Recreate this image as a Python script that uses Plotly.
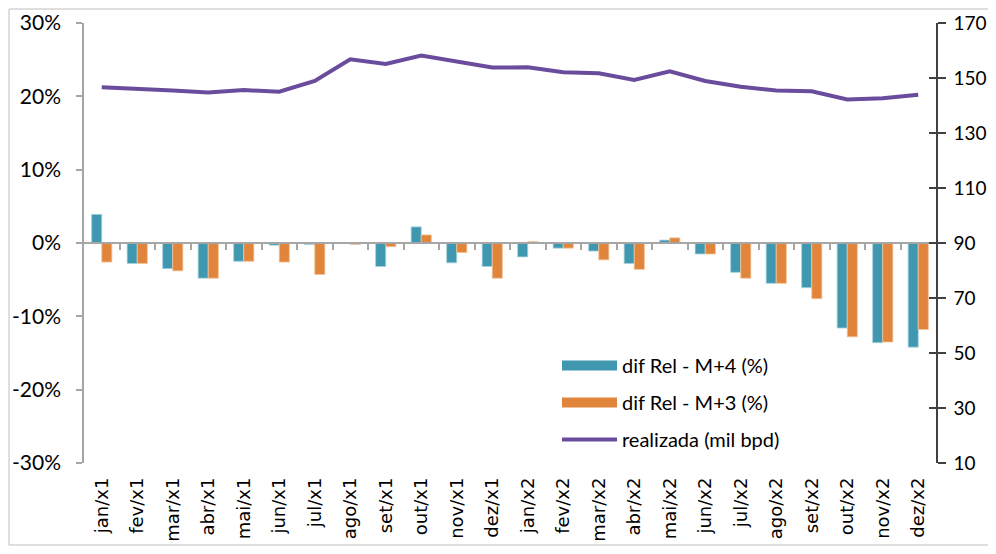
import plotly.graph_objects as go

categories = ["jan/x1", "fev/x1", "mar/x1", "abr/x1", "mai/x1", "jun/x1", "jul/x1", "ago/x1",
              "set/x1", "out/x1", "nov/x1", "dez/x1", "jan/x2", "fev/x2", "mar/x2", "abr/x2",
              "mai/x2", "jun/x2", "jul/x2", "ago/x2", "set/x2", "out/x2", "nov/x2", "dez/x2"]
dif_m4 = [3.9, -2.8, -3.5, -4.8, -2.5, -0.3, -0.2, 0.0, -3.2, 2.2, -2.7, -3.2,
          -1.9, -0.7, -1.1, -2.8, 0.4, -1.5, -4.0, -5.5, -6.1, -11.6, -13.6, -14.2]
dif_m3 = [-2.6, -2.8, -3.8, -4.8, -2.5, -2.6, -4.3, -0.2, -0.5, 1.1, -1.3, -4.8,
          0.2, -0.7, -2.3, -3.6, 0.7, -1.5, -4.8, -5.5, -7.6, -12.8, -13.5, -11.8]
realizada = [146.6, 146.2, 145.5, 144.7, 145.6, 145.0, 148.9, 156.8, 155.1, 158.2, 155.9, 153.8,
             153.9, 152.1, 151.7, 149.3, 152.4, 148.9, 146.8, 145.5, 145.2, 142.2, 142.6, 143.9]
left_ticks = [-30, -20, -10, 0, 10, 20, 30]
left_labels = ["-30%", "-20%", "-10%", "0%", "10%", "20%", "30%"]
right_ticks = [10, 30, 50, 70, 90, 110, 130, 150, 170]

names = ["dif Rel - M+4 (%)", "dif Rel - M+3 (%)", "realizada (mil bpd)"]
colors = ["#3F98AF", "#E0853B", "#6A4C9C"]

FONT = "Lato"
idx = list(range(len(categories)))

# page body has an 8px margin: figure is placed at (8, 8); keep page within the window
W, H = 980, 538
ML, MR, MT, MB = 76, 52, 15, 83
PW, PH = W - ML - MR, H - MT - MB

fig = go.Figure()
fig.add_trace(go.Bar(x=idx, y=dif_m4, name=names[0], showlegend=False,
                     marker=dict(color=colors[0], line=dict(color="#A9D3DE", width=0.8))))
fig.add_trace(go.Bar(x=idx, y=dif_m3, name=names[1], showlegend=False,
                     marker=dict(color=colors[1], line=dict(color="#F3C49B", width=0.8))))
fig.add_trace(go.Scatter(x=idx, y=realizada, name=names[2], yaxis="y2", showlegend=False,
                         mode="lines", line=dict(color=colors[2], width=4)))
# legend entries (wide swatches like the original)
fig.add_trace(go.Scatter(x=[None], y=[None], name=names[0], mode="lines", legendgroup="a",
                         line=dict(color=colors[0], width=18)))
fig.add_trace(go.Scatter(x=[None], y=[None], name=names[1], mode="lines", legendgroup="b",
                         line=dict(color=colors[1], width=18)))
fig.add_trace(go.Scatter(x=[None], y=[None], name=names[2], mode="lines", legendgroup="c",
                         line=dict(color=colors[2], width=4)))
# invisible traces to attach the helper axes
fig.add_trace(go.Scatter(x=[0], y=[0], xaxis="x2", mode="markers", marker=dict(opacity=0),
                         showlegend=False, hoverinfo="skip"))
fig.add_trace(go.Scatter(x=[0], y=[10], yaxis="y3", mode="markers", marker=dict(opacity=0),
                         showlegend=False, hoverinfo="skip"))

fig.update_layout(
    width=W, height=H,
    margin=dict(l=ML, r=MR, t=MT, b=MB, autoexpand=False),
    paper_bgcolor="white", plot_bgcolor="white",
    barmode="group", bargap=0.43, bargroupgap=0,
    font=dict(family=FONT, size=20, color="#000000"),
    showlegend=True,
    legend=dict(x=(557 - 84) / PW, y=(463 - 346) / PH, xanchor="left", yanchor="top",
                font=dict(family=FONT, size=20, color="#000"), traceorder="grouped",
                bgcolor="rgba(0,0,0,0)", tracegroupgap=8, itemwidth=55),
    xaxis=dict(type="linear", range=[-0.5, len(categories) - 0.5],
               anchor="free", position=0.5, automargin=False,
               showline=True, linecolor="#A6A6A6", linewidth=1.5,
               tickmode="array", tickvals=[i + 0.5 for i in idx[:-1]],
               ticks="outside", ticklen=6, tickcolor="#A6A6A6", tickwidth=1.5,
               showticklabels=False, showgrid=False, zeroline=False),
    xaxis2=dict(type="linear", range=[-0.5, len(categories) - 0.5], automargin=False,
                overlaying="x", side="bottom", anchor="y",
                tickmode="array", tickvals=idx, ticktext=categories, tickangle=-90,
                ticklabelstandoff=10,
                tickfont=dict(family="DejaVu Sans", size=18, color="#000"),
                showline=False, ticks="", showgrid=False, zeroline=False),
    yaxis=dict(range=[-30, 30], tickmode="array", tickvals=left_ticks, ticktext=left_labels,
               automargin=False,
               showline=True, linecolor="#A6A6A6", linewidth=1.5,
               ticks="outside", ticklen=6, tickcolor="#A6A6A6", tickwidth=1.5,
               ticklabelstandoff=11,
               showgrid=False, zeroline=False,
               tickfont=dict(family=FONT, size=21, color="#000")),
    yaxis2=dict(range=[10, 170], tickmode="array", tickvals=right_ticks, overlaying="y",
                automargin=False,
                side="right", showline=True, linecolor="#404040", linewidth=1.5,
                ticks="outside", ticklen=8, tickcolor="#404040", tickwidth=1.5,
                ticklabelstandoff=4,
                showgrid=False, zeroline=False,
                tickfont=dict(family=FONT, size=19, color="#000")),
    yaxis3=dict(range=[10, 170], tickmode="array", tickvals=right_ticks, overlaying="y",
                side="right", anchor="x", showline=False, automargin=False,
                ticks="inside", ticklen=7, tickcolor="#404040", tickwidth=1.5,
                showticklabels=False, showgrid=False, zeroline=False),
    shapes=[dict(type="rect", xref="paper", yref="paper",
                 x0=-(ML - 1) / PW, x1=1 + (MR + 10) / PW,
                 y0=-(MB - 1) / PH, y1=1 + (MT - 1) / PH,
                 line=dict(color="#BFBFBF", width=1), fillcolor="rgba(0,0,0,0)", layer="below")],
)

fig.write_html("out.html")
